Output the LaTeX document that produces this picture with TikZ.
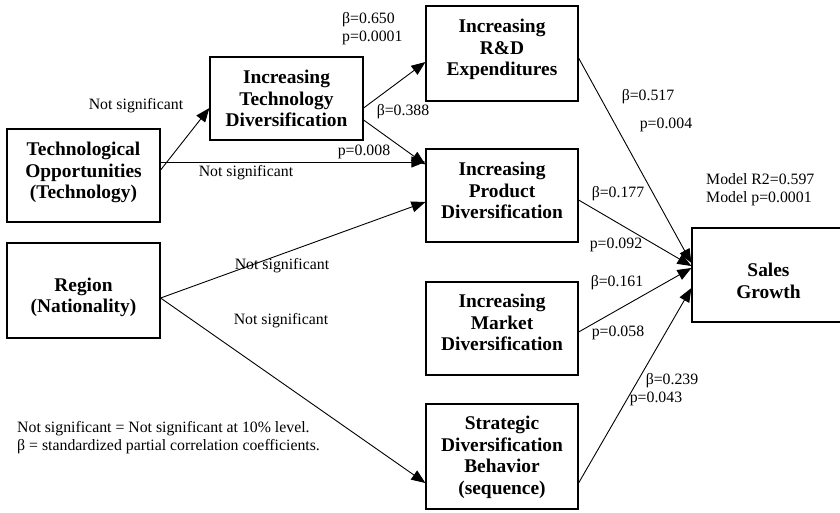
\documentclass[tikz,border=0pt]{standalone}
\usepackage{fontspec}
\setmainfont{Liberation Serif}
\usetikzlibrary{arrows.meta}
\begin{document}
\begin{tikzpicture}[x=1pt,y=-1pt,
  box/.style={draw, line width=1.2pt, inner sep=0pt},
  boxtext/.style={align=center, inner sep=0pt,
    font=\fontsize{19.4}{21.5}\selectfont\bfseries},
  lbl/.style={font=\fontsize{15.8}{18}\selectfont, inner sep=0pt},
  lbll/.style={lbl, align=left, anchor=west},
  link/.style={line width=0.9pt, -{Triangle[length=14pt,width=11pt]}}]
\useasboundingbox (0,0) rectangle (840,512);

% boxes, each with its bold caption set slightly off centre
\node[box, minimum width=153pt, minimum height=83pt,
  label={[boxtext]center:{Increasing\\Technology\\Diversification}}] (tdiv) at (286.5,98.5) {};
\node[box, minimum width=153pt, minimum height=93pt,
  label={[boxtext, yshift=3pt]center:{Technological\\Opportunities\\(Technology)}}] (topp) at (83.5,175.5) {};
\node[box, minimum width=153pt, minimum height=95pt,
  label={[boxtext, yshift=-7pt]center:{Region\\(Nationality)}}] (region) at (83.5,290.5) {};
\node[box, minimum width=152pt, minimum height=95pt,
  label={[boxtext, yshift=4pt]center:{Increasing\\R\&D\\Expenditures}}] (rd) at (502,53.5) {};
\node[box, minimum width=152pt, minimum height=93pt,
  label={[boxtext, yshift=5pt]center:{Increasing\\Product\\Diversification}}] (prod) at (502,195.5) {};
\node[box, minimum width=152pt, minimum height=93pt,
  label={[boxtext, yshift=6pt]center:{Increasing\\Market\\Diversification}}] (mkt) at (502,328.5) {};
\node[box, minimum width=152pt, minimum height=105pt,
  label={[boxtext, yshift=-1pt]center:{Strategic\\Diversification\\Behavior\\(sequence)}}] (strat) at (502,456.5) {};
% the outcome box runs past the right edge of the page
\node[box, minimum width=158pt, minimum height=94pt] (sales) at (771,275) {};
\node[boxtext] (salestext) at (768.5,281) {Sales\\Growth};

% connectors
\draw[link] ([yshift=5.5pt]topp.east) -- ([yshift=-9.5pt]tdiv.west);
\coordinate (hstart) at ([yshift=13.5pt]topp.east);
\draw[link] (hstart) -- (hstart -| prod.west);
\draw[link] ([yshift=-9.5pt]tdiv.east) -- ([yshift=-8.5pt]rd.west);
\draw[link] ([yshift=-21.5pt]tdiv.east) -- ([yshift=31pt]prod.west);
\draw[link] ([yshift=-7.5pt]region.east) -- ([yshift=-6.5pt]prod.west);
\draw[link] ([yshift=-7.5pt]region.east) -- ([yshift=-26.5pt]strat.west);
\draw[link] ([yshift=-4.5pt]rd.east) -- ([yshift=12pt]sales.west);
\draw[link] ([yshift=-4.5pt]prod.east) -- ([yshift=9pt]sales.west);
\draw[link] ([yshift=-3.5pt]mkt.east) -- ([yshift=7pt]sales.west);
\draw[link] ([yshift=-26.5pt]strat.east) -- ([yshift=-13pt]sales.west);

% coefficients
\node[lbll] (b650) at (342,29) {β=0.650\\p=0.0001};
\node[lbl] (ns1) at (136,106) {Not significant};
\node[lbl] (b388) at (403,112) {β=0.388};
\node[lbl] (p008) at (364,152) {p=0.008};
\node[lbl] (ns2) at (246,173) {Not significant};
\node[lbl] (b517) at (648,97) {β=0.517};
\node[lbl] (p004) at (666,125) {p=0.004};
\node[lbll] (model) at (706,190) {Model R2=0.597\\Model p=0.0001};
\node[lbl] (b177) at (618,194) {β=0.177};
\node[lbl] (p092) at (616,245) {p=0.092};
\node[lbl] (ns3) at (282,266) {Not significant};
\node[lbl] (ns4) at (281,321) {Not significant};
\node[lbl] (b161) at (617,283) {β=0.161};
\node[lbl] (p058) at (618,333) {p=0.058};
\node[lbl] (b239) at (672,381) {β=0.239};
\node[lbl] (p043) at (656,399) {p=0.043};

% legend
\node[lbll] (note) at (17,437.5)
  {Not significant = Not significant at 10\% level.\\β = standardized partial correlation coefficients.};
\end{tikzpicture}
\end{document}
